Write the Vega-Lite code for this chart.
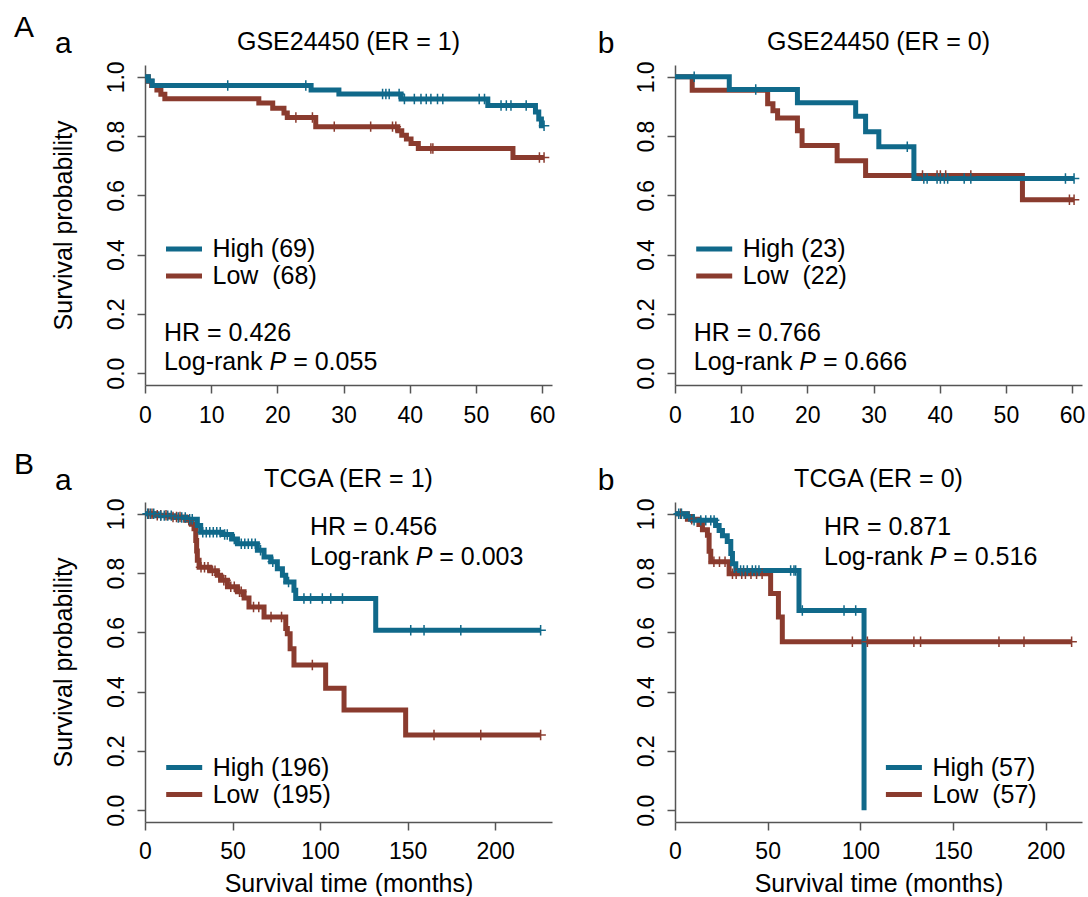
{
"$schema": "https://vega.github.io/schema/vega-lite/v6.json",
"padding": {"left": 13, "top": 12, "right": 5, "bottom": 0},
"background": "white",
"config": {
  "font": "Liberation Sans",
  "view": {"stroke": null},
  "axis": {"grid": false, "domainColor": "#555", "tickColor": "#555", "domainWidth": 1.5, "tickWidth": 1.5, "tickSize": 8,
           "labelFontSize": 23, "labelColor": "#000", "labelFont": "Liberation Sans", "labelFlush": false, "labelOverlap": false,
           "titleFontSize": 25, "titleFontWeight": "normal", "titleColor": "#000", "titleFont": "Liberation Sans"},
  "axisX": {"labelPadding": 11, "titlePadding": 8},
  "axisY": {"labelAngle": -90, "labelAlign": "center", "labelBaseline": "alphabetic", "labelPadding": 14, "titlePadding": 29},
  "legend": {"orient": "none", "title": null, "padding": 0, "symbolType": "M-2,0H2", "symbolSize": 324, "symbolStrokeWidth": 5, "symbolOpacity": 1,
             "labelFontSize": 25, "labelFont": "Liberation Sans", "labelColor": "#000", "labelOffset": 16, "rowPadding": 1, "labelLimit": 300},
  "text": {"font": "Liberation Sans", "color": "#000", "baseline": "alphabetic", "align": "left", "fontSize": 25}
},
"datasets": {
"aa": [
{"group":"Low","time":0,"surv":1,"cens":0},{"group":"Low","time":0.5,"surv":0.985,"cens":0},{"group":"Low","time":1.0,"surv":0.971,"cens":0},{"group":"Low","time":1.8,"surv":0.956,"cens":0},{"group":"Low","time":2.4,"surv":0.941,"cens":0},{"group":"Low","time":3.0,"surv":0.926,"cens":0},{"group":"Low","time":17.2,"surv":0.912,"cens":0},{"group":"Low","time":19.3,"surv":0.894,"cens":0},{"group":"Low","time":21.0,"surv":0.878,"cens":0},{"group":"Low","time":21.5,"surv":0.863,"cens":0},{"group":"Low","time":22.8,"surv":0.863,"cens":1},{"group":"Low","time":25.3,"surv":0.863,"cens":1},{"group":"Low","time":25.8,"surv":0.832,"cens":0},{"group":"Low","time":28.6,"surv":0.832,"cens":1},{"group":"Low","time":34.1,"surv":0.832,"cens":1},{"group":"Low","time":37.4,"surv":0.832,"cens":1},{"group":"Low","time":37.9,"surv":0.832,"cens":1},{"group":"Low","time":38.2,"surv":0.818,"cens":0},{"group":"Low","time":38.8,"surv":0.803,"cens":0},{"group":"Low","time":39.5,"surv":0.790,"cens":0},{"group":"Low","time":40.2,"surv":0.775,"cens":0},{"group":"Low","time":41.3,"surv":0.758,"cens":0},{"group":"Low","time":43.2,"surv":0.758,"cens":1},{"group":"Low","time":43.5,"surv":0.758,"cens":1},{"group":"Low","time":55.6,"surv":0.728,"cens":0},{"group":"Low","time":59.6,"surv":0.728,"cens":1},{"group":"Low","time":60.3,"surv":0.728,"cens":1},
{"group":"High","time":0,"surv":1,"cens":0},{"group":"High","time":0.5,"surv":0.986,"cens":0},{"group":"High","time":1.1,"surv":0.971,"cens":0},{"group":"High","time":12.5,"surv":0.971,"cens":1},{"group":"High","time":24.3,"surv":0.971,"cens":1},{"group":"High","time":25.1,"surv":0.956,"cens":0},{"group":"High","time":29.3,"surv":0.942,"cens":0},{"group":"High","time":35.9,"surv":0.942,"cens":1},{"group":"High","time":36.4,"surv":0.942,"cens":1},{"group":"High","time":36.9,"surv":0.942,"cens":1},{"group":"High","time":38.4,"surv":0.942,"cens":1},{"group":"High","time":38.7,"surv":0.925,"cens":0},{"group":"High","time":39.2,"surv":0.925,"cens":1},{"group":"High","time":40.7,"surv":0.925,"cens":1},{"group":"High","time":41.7,"surv":0.925,"cens":1},{"group":"High","time":42.5,"surv":0.925,"cens":1},{"group":"High","time":43.2,"surv":0.925,"cens":1},{"group":"High","time":44.2,"surv":0.925,"cens":1},{"group":"High","time":45.0,"surv":0.925,"cens":1},{"group":"High","time":50.5,"surv":0.925,"cens":1},{"group":"High","time":51.3,"surv":0.925,"cens":1},{"group":"High","time":51.8,"surv":0.903,"cens":0},{"group":"High","time":53.8,"surv":0.903,"cens":1},{"group":"High","time":54.6,"surv":0.903,"cens":1},{"group":"High","time":55.3,"surv":0.903,"cens":1},{"group":"High","time":57.6,"surv":0.903,"cens":1},{"group":"High","time":59.0,"surv":0.881,"cens":0},{"group":"High","time":59.5,"surv":0.858,"cens":0},{"group":"High","time":59.9,"surv":0.835,"cens":0},{"group":"High","time":60.3,"surv":0.835,"cens":1}
],
"ab": [
{"group":"Low","time":0,"surv":1,"cens":0},{"group":"Low","time":2.6,"surv":0.955,"cens":0},{"group":"Low","time":14.0,"surv":0.909,"cens":0},{"group":"Low","time":14.8,"surv":0.886,"cens":0},{"group":"Low","time":15.5,"surv":0.861,"cens":0},{"group":"Low","time":18.5,"surv":0.818,"cens":0},{"group":"Low","time":19.2,"surv":0.768,"cens":0},{"group":"Low","time":24.5,"surv":0.717,"cens":0},{"group":"Low","time":28.8,"surv":0.667,"cens":0},{"group":"Low","time":37.4,"surv":0.667,"cens":1},{"group":"Low","time":39.6,"surv":0.667,"cens":1},{"group":"Low","time":40.1,"surv":0.667,"cens":1},{"group":"Low","time":40.9,"surv":0.667,"cens":1},{"group":"Low","time":44.7,"surv":0.667,"cens":1},{"group":"Low","time":52.5,"surv":0.585,"cens":0},{"group":"Low","time":59.6,"surv":0.585,"cens":1},{"group":"Low","time":60.3,"surv":0.585,"cens":1},
{"group":"High","time":0,"surv":1,"cens":0},{"group":"High","time":2.9,"surv":1,"cens":1},{"group":"High","time":8.2,"surv":0.957,"cens":0},{"group":"High","time":12.2,"surv":0.957,"cens":1},{"group":"High","time":18.5,"surv":0.913,"cens":0},{"group":"High","time":27.3,"surv":0.867,"cens":0},{"group":"High","time":28.8,"surv":0.815,"cens":0},{"group":"High","time":30.8,"surv":0.764,"cens":0},{"group":"High","time":35.1,"surv":0.764,"cens":1},{"group":"High","time":36.1,"surv":0.657,"cens":0},{"group":"High","time":37.6,"surv":0.657,"cens":1},{"group":"High","time":38.1,"surv":0.657,"cens":1},{"group":"High","time":39.6,"surv":0.657,"cens":1},{"group":"High","time":40.1,"surv":0.657,"cens":1},{"group":"High","time":40.7,"surv":0.657,"cens":1},{"group":"High","time":41.2,"surv":0.657,"cens":1},{"group":"High","time":43.7,"surv":0.657,"cens":1},{"group":"High","time":44.7,"surv":0.657,"cens":1},{"group":"High","time":59.0,"surv":0.657,"cens":1},{"group":"High","time":60.3,"surv":0.657,"cens":1}
],
"ba": [
{"group":"Low","time":0,"surv":1,"cens":0},{"group":"Low","time":2,"surv":1,"cens":1},{"group":"Low","time":4,"surv":1,"cens":1},{"group":"Low","time":5,"surv":0.995,"cens":0},{"group":"Low","time":7,"surv":0.995,"cens":1},{"group":"Low","time":9,"surv":0.995,"cens":1},{"group":"Low","time":12,"surv":0.995,"cens":1},{"group":"Low","time":14,"surv":0.989,"cens":0},{"group":"Low","time":16,"surv":0.989,"cens":1},{"group":"Low","time":18,"surv":0.989,"cens":1},{"group":"Low","time":20,"surv":0.989,"cens":1},{"group":"Low","time":23.2,"surv":0.978,"cens":0},{"group":"Low","time":25,"surv":0.978,"cens":1},{"group":"Low","time":26.5,"surv":0.965,"cens":0},{"group":"Low","time":28.0,"surv":0.950,"cens":0},{"group":"Low","time":29.0,"surv":0.910,"cens":0},{"group":"Low","time":29.5,"surv":0.875,"cens":0},{"group":"Low","time":29.9,"surv":0.843,"cens":0},{"group":"Low","time":30.9,"surv":0.820,"cens":0},{"group":"Low","time":32,"surv":0.820,"cens":1},{"group":"Low","time":34,"surv":0.820,"cens":1},{"group":"Low","time":36,"surv":0.820,"cens":1},{"group":"Low","time":37,"surv":0.808,"cens":0},{"group":"Low","time":38.5,"surv":0.808,"cens":1},{"group":"Low","time":40,"surv":0.808,"cens":1},{"group":"Low","time":41.3,"surv":0.793,"cens":0},{"group":"Low","time":42.3,"surv":0.793,"cens":1},{"group":"Low","time":43.2,"surv":0.776,"cens":0},{"group":"Low","time":45,"surv":0.776,"cens":1},{"group":"Low","time":46,"surv":0.776,"cens":1},{"group":"Low","time":47.1,"surv":0.754,"cens":0},{"group":"Low","time":49,"surv":0.754,"cens":1},{"group":"Low","time":51,"surv":0.754,"cens":1},{"group":"Low","time":52.8,"surv":0.737,"cens":0},{"group":"Low","time":54,"surv":0.737,"cens":1},{"group":"Low","time":55,"surv":0.737,"cens":1},{"group":"Low","time":56.6,"surv":0.716,"cens":0},{"group":"Low","time":59.4,"surv":0.686,"cens":0},{"group":"Low","time":62,"surv":0.686,"cens":1},{"group":"Low","time":65,"surv":0.686,"cens":1},{"group":"Low","time":68.0,"surv":0.652,"cens":0},{"group":"Low","time":72,"surv":0.652,"cens":1},{"group":"Low","time":78,"surv":0.652,"cens":1},{"group":"Low","time":80.4,"surv":0.613,"cens":0},{"group":"Low","time":81.3,"surv":0.595,"cens":0},{"group":"Low","time":82.9,"surv":0.545,"cens":0},{"group":"Low","time":85.1,"surv":0.490,"cens":0},{"group":"Low","time":95.6,"surv":0.490,"cens":1},{"group":"Low","time":103.2,"surv":0.411,"cens":0},{"group":"Low","time":113.7,"surv":0.338,"cens":0},{"group":"Low","time":148.9,"surv":0.254,"cens":0},{"group":"Low","time":165.1,"surv":0.254,"cens":1},{"group":"Low","time":191.8,"surv":0.254,"cens":1},{"group":"Low","time":226,"surv":0.254,"cens":1},
{"group":"High","time":0,"surv":1,"cens":0},{"group":"High","time":1.5,"surv":1,"cens":1},{"group":"High","time":3,"surv":1,"cens":1},{"group":"High","time":5,"surv":1,"cens":1},{"group":"High","time":7,"surv":0.994,"cens":0},{"group":"High","time":9,"surv":0.994,"cens":1},{"group":"High","time":11,"surv":0.994,"cens":1},{"group":"High","time":13,"surv":0.994,"cens":1},{"group":"High","time":15,"surv":0.994,"cens":1},{"group":"High","time":17,"surv":0.988,"cens":0},{"group":"High","time":19,"surv":0.988,"cens":1},{"group":"High","time":21,"surv":0.988,"cens":1},{"group":"High","time":23,"surv":0.988,"cens":1},{"group":"High","time":24,"surv":0.982,"cens":0},{"group":"High","time":25.5,"surv":0.982,"cens":1},{"group":"High","time":27,"surv":0.982,"cens":1},{"group":"High","time":29.9,"surv":0.961,"cens":0},{"group":"High","time":31.8,"surv":0.938,"cens":0},{"group":"High","time":33,"surv":0.938,"cens":1},{"group":"High","time":35,"surv":0.938,"cens":1},{"group":"High","time":37,"surv":0.938,"cens":1},{"group":"High","time":39,"surv":0.938,"cens":1},{"group":"High","time":41,"surv":0.938,"cens":1},{"group":"High","time":43,"surv":0.938,"cens":1},{"group":"High","time":44,"surv":0.930,"cens":0},{"group":"High","time":45.5,"surv":0.930,"cens":1},{"group":"High","time":47,"surv":0.930,"cens":1},{"group":"High","time":49.5,"surv":0.915,"cens":0},{"group":"High","time":51,"surv":0.915,"cens":1},{"group":"High","time":52.8,"surv":0.899,"cens":0},{"group":"High","time":55,"surv":0.899,"cens":1},{"group":"High","time":57,"surv":0.899,"cens":1},{"group":"High","time":59,"surv":0.899,"cens":1},{"group":"High","time":61,"surv":0.899,"cens":1},{"group":"High","time":63,"surv":0.899,"cens":1},{"group":"High","time":64.2,"surv":0.877,"cens":0},{"group":"High","time":66,"surv":0.877,"cens":1},{"group":"High","time":68,"surv":0.854,"cens":0},{"group":"High","time":71.8,"surv":0.838,"cens":0},{"group":"High","time":73,"surv":0.838,"cens":1},{"group":"High","time":75.6,"surv":0.815,"cens":0},{"group":"High","time":78.5,"surv":0.793,"cens":0},{"group":"High","time":80.4,"surv":0.770,"cens":0},{"group":"High","time":82,"surv":0.770,"cens":1},{"group":"High","time":85.1,"surv":0.742,"cens":0},{"group":"High","time":86.1,"surv":0.714,"cens":0},{"group":"High","time":90.8,"surv":0.714,"cens":1},{"group":"High","time":94.6,"surv":0.714,"cens":1},{"group":"High","time":101.3,"surv":0.714,"cens":1},{"group":"High","time":106.1,"surv":0.714,"cens":1},{"group":"High","time":112.8,"surv":0.714,"cens":1},{"group":"High","time":131.8,"surv":0.607,"cens":0},{"group":"High","time":151.8,"surv":0.607,"cens":1},{"group":"High","time":159.4,"surv":0.607,"cens":1},{"group":"High","time":180.4,"surv":0.607,"cens":1},{"group":"High","time":226,"surv":0.607,"cens":1}
],
"bb": [
{"group":"Low","time":0,"surv":1,"cens":0},{"group":"Low","time":3,"surv":1,"cens":1},{"group":"Low","time":6.7,"surv":0.982,"cens":0},{"group":"Low","time":9,"surv":0.982,"cens":1},{"group":"Low","time":12.9,"surv":0.964,"cens":0},{"group":"Low","time":14.8,"surv":0.946,"cens":0},{"group":"Low","time":17.5,"surv":0.928,"cens":0},{"group":"Low","time":18.4,"surv":0.874,"cens":0},{"group":"Low","time":19.3,"surv":0.838,"cens":0},{"group":"Low","time":21,"surv":0.838,"cens":1},{"group":"Low","time":24,"surv":0.838,"cens":1},{"group":"Low","time":27,"surv":0.838,"cens":1},{"group":"Low","time":29.2,"surv":0.798,"cens":0},{"group":"Low","time":31,"surv":0.798,"cens":1},{"group":"Low","time":33,"surv":0.798,"cens":1},{"group":"Low","time":36,"surv":0.798,"cens":1},{"group":"Low","time":38,"surv":0.798,"cens":1},{"group":"Low","time":41,"surv":0.798,"cens":1},{"group":"Low","time":44,"surv":0.798,"cens":1},{"group":"Low","time":47,"surv":0.798,"cens":1},{"group":"Low","time":51.6,"surv":0.731,"cens":0},{"group":"Low","time":55.8,"surv":0.652,"cens":0},{"group":"Low","time":57.9,"surv":0.568,"cens":0},{"group":"Low","time":95.7,"surv":0.568,"cens":1},{"group":"Low","time":103.8,"surv":0.568,"cens":1},{"group":"Low","time":128.9,"surv":0.568,"cens":1},{"group":"Low","time":132.5,"surv":0.568,"cens":1},{"group":"Low","time":174.8,"surv":0.568,"cens":1},{"group":"Low","time":188.3,"surv":0.568,"cens":1},{"group":"Low","time":214,"surv":0.568,"cens":1},
{"group":"High","time":0,"surv":1,"cens":0},{"group":"High","time":2,"surv":1,"cens":1},{"group":"High","time":3.5,"surv":1,"cens":1},{"group":"High","time":5.8,"surv":0.991,"cens":0},{"group":"High","time":7.5,"surv":0.991,"cens":1},{"group":"High","time":9.4,"surv":0.978,"cens":0},{"group":"High","time":10.3,"surv":0.978,"cens":1},{"group":"High","time":13.9,"surv":0.978,"cens":1},{"group":"High","time":16.6,"surv":0.978,"cens":1},{"group":"High","time":19.3,"surv":0.978,"cens":1},{"group":"High","time":21.1,"surv":0.978,"cens":1},{"group":"High","time":21.9,"surv":0.961,"cens":0},{"group":"High","time":23.8,"surv":0.944,"cens":0},{"group":"High","time":25.6,"surv":0.926,"cens":0},{"group":"High","time":28.2,"surv":0.907,"cens":0},{"group":"High","time":30.1,"surv":0.866,"cens":0},{"group":"High","time":31.0,"surv":0.832,"cens":0},{"group":"High","time":32.8,"surv":0.809,"cens":0},{"group":"High","time":35.4,"surv":0.809,"cens":1},{"group":"High","time":37,"surv":0.809,"cens":1},{"group":"High","time":39,"surv":0.809,"cens":1},{"group":"High","time":41.7,"surv":0.809,"cens":1},{"group":"High","time":43.5,"surv":0.809,"cens":1},{"group":"High","time":45.3,"surv":0.809,"cens":1},{"group":"High","time":62.4,"surv":0.809,"cens":1},{"group":"High","time":64.2,"surv":0.809,"cens":1},{"group":"High","time":65.1,"surv":0.809,"cens":1},{"group":"High","time":66.9,"surv":0.674,"cens":0},{"group":"High","time":68.7,"surv":0.674,"cens":1},{"group":"High","time":91.2,"surv":0.674,"cens":1},{"group":"High","time":97.5,"surv":0.674,"cens":1},{"group":"High","time":102,"surv":0,"cens":0}
]
},
"columns": 2,
"spacing": {"row": 117, "column": 123},
"bounds": "flush",
"resolve": {"scale": {"x": "independent", "y": "independent", "color": "independent"}, "legend": {"color": "independent"}},
"concat": [
{
 "width": 407, "height": 320, "data": {"name": "aa"},
 "layer": [
  {"mark": {"type": "line", "interpolate": "step-after", "strokeWidth": 5},
   "encoding": {
    "x": {"field": "time", "type": "quantitative", "scale": {"domain": [0, 61.5], "nice": false, "zero": false}, "axis": {"values": [0,10,20,30,40,50,60], "format": "d", "title": null}},
    "y": {"field": "surv", "type": "quantitative", "scale": {"domain": [-0.04, 1.04], "nice": false, "zero": false}, "axis": {"values": [0,0.2,0.4,0.6,0.8,1], "format": ".1f", "title": "Survival probability"}},
    "color": {"field": "group", "type": "nominal", "scale": {"domain": ["High","Low"], "range": ["#10698a","#8a3b2e"]}, "legend": {"legendX": 26.5, "legendY": 171.4, "labelExpr": "datum.label == 'High' ? 'High (69)' : 'Low\u00a0 (68)'"}}
   }},
  {"transform": [{"filter": "datum.cens == 1"}], "mark": {"type": "point", "shape": "M-1,0H1M0,-1V1", "filled": false, "strokeWidth": 1.5, "size": 110, "opacity": 1},
   "encoding": {"x": {"field": "time", "type": "quantitative"}, "y": {"field": "surv", "type": "quantitative"}, "color": {"field": "group", "type": "nominal"}}},
  {"data": {"values": [{}]}, "mark": {"type": "text", "text": "GSE24450 (ER = 1)", "align": "center"}, "encoding": {"x": {"datum": 30.75}, "y": {"datum": 1.089}}},
  {"data": {"values": [{}]}, "mark": {"type": "text", "text": "HR = 0.426"}, "encoding": {"x": {"datum": 2.86}, "y": {"datum": 0.11}}},
  {"data": {"values": [{}]}, "mark": {"type": "text", "text": "Log-rank"}, "encoding": {"x": {"datum": 2.86}, "y": {"datum": 0.009}}},
  {"data": {"values": [{}]}, "mark": {"type": "text", "text": "P", "fontStyle": "italic"}, "encoding": {"x": {"datum": 18.81}, "y": {"datum": 0.009}}},
  {"data": {"values": [{}]}, "mark": {"type": "text", "text": "= 0.055"}, "encoding": {"x": {"datum": 22.39}, "y": {"datum": 0.009}}},
  {"data": {"values": [{}]}, "mark": {"type": "text", "text": "A", "fontSize": 30}, "encoding": {"x": {"datum": -19.8}, "y": {"datum": 1.1355}}},
  {"data": {"values": [{}]}, "mark": {"type": "text", "text": "a", "fontSize": 30}, "encoding": {"x": {"datum": -13.6}, "y": {"datum": 1.0815}}}
 ]
},
{
 "width": 407, "height": 320, "data": {"name": "ab"},
 "layer": [
  {"mark": {"type": "line", "interpolate": "step-after", "strokeWidth": 5},
   "encoding": {
    "x": {"field": "time", "type": "quantitative", "scale": {"domain": [0, 61.5], "nice": false, "zero": false}, "axis": {"values": [0,10,20,30,40,50,60], "format": "d", "title": null}},
    "y": {"field": "surv", "type": "quantitative", "scale": {"domain": [-0.04, 1.04], "nice": false, "zero": false}, "axis": {"values": [0,0.2,0.4,0.6,0.8,1], "format": ".1f", "title": null}},
    "color": {"field": "group", "type": "nominal", "scale": {"domain": ["High","Low"], "range": ["#10698a","#8a3b2e"]}, "legend": {"legendX": 26.7, "legendY": 171.4, "labelExpr": "datum.label == 'High' ? 'High (23)' : 'Low\u00a0 (22)'"}}
   }},
  {"transform": [{"filter": "datum.cens == 1"}], "mark": {"type": "point", "shape": "M-1,0H1M0,-1V1", "filled": false, "strokeWidth": 1.5, "size": 110, "opacity": 1},
   "encoding": {"x": {"field": "time", "type": "quantitative"}, "y": {"field": "surv", "type": "quantitative"}, "color": {"field": "group", "type": "nominal"}}},
  {"data": {"values": [{}]}, "mark": {"type": "text", "text": "GSE24450 (ER = 0)", "align": "center"}, "encoding": {"x": {"datum": 30.75}, "y": {"datum": 1.089}}},
  {"data": {"values": [{}]}, "mark": {"type": "text", "text": "HR = 0.766"}, "encoding": {"x": {"datum": 2.83}, "y": {"datum": 0.11}}},
  {"data": {"values": [{}]}, "mark": {"type": "text", "text": "Log-rank"}, "encoding": {"x": {"datum": 2.83}, "y": {"datum": 0.009}}},
  {"data": {"values": [{}]}, "mark": {"type": "text", "text": "P", "fontStyle": "italic"}, "encoding": {"x": {"datum": 18.78}, "y": {"datum": 0.009}}},
  {"data": {"values": [{}]}, "mark": {"type": "text", "text": "= 0.666"}, "encoding": {"x": {"datum": 22.36}, "y": {"datum": 0.009}}},
  {"data": {"values": [{}]}, "mark": {"type": "text", "text": "b", "fontSize": 30}, "encoding": {"x": {"datum": -11.68}, "y": {"datum": 1.0815}}}
 ]
},
{
 "width": 407, "height": 320, "data": {"name": "ba"},
 "layer": [
  {"mark": {"type": "line", "interpolate": "step-after", "strokeWidth": 5},
   "encoding": {
    "x": {"field": "time", "type": "quantitative", "scale": {"domain": [0, 232.5], "nice": false, "zero": false}, "axis": {"values": [0,50,100,150,200], "format": "d", "title": "Survival time (months)", "labelPadding": 10}},
    "y": {"field": "surv", "type": "quantitative", "scale": {"domain": [-0.04, 1.04], "nice": false, "zero": false}, "axis": {"values": [0,0.2,0.4,0.6,0.8,1], "format": ".1f", "title": "Survival probability"}},
    "color": {"field": "group", "type": "nominal", "scale": {"domain": ["High","Low"], "range": ["#10698a","#8a3b2e"]}, "legend": {"legendX": 26.7, "legendY": 253, "labelExpr": "datum.label == 'High' ? 'High (196)' : 'Low\u00a0 (195)'"}}
   }},
  {"transform": [{"filter": "datum.cens == 1"}], "mark": {"type": "point", "shape": "M-1,0H1M0,-1V1", "filled": false, "strokeWidth": 1.5, "size": 110, "opacity": 1},
   "encoding": {"x": {"field": "time", "type": "quantitative"}, "y": {"field": "surv", "type": "quantitative"}, "color": {"field": "group", "type": "nominal"}}},
  {"data": {"values": [{}]}, "mark": {"type": "text", "text": "TCGA (ER = 1)", "align": "center"}, "encoding": {"x": {"datum": 116.25}, "y": {"datum": 1.089}}},
  {"data": {"values": [{}]}, "mark": {"type": "text", "text": "HR = 0.456"}, "encoding": {"x": {"datum": 94.26}, "y": {"datum": 0.927}}},
  {"data": {"values": [{}]}, "mark": {"type": "text", "text": "Log-rank"}, "encoding": {"x": {"datum": 94.26}, "y": {"datum": 0.826}}},
  {"data": {"values": [{}]}, "mark": {"type": "text", "text": "P", "fontStyle": "italic"}, "encoding": {"x": {"datum": 154.6}, "y": {"datum": 0.826}}},
  {"data": {"values": [{}]}, "mark": {"type": "text", "text": "= 0.003"}, "encoding": {"x": {"datum": 168.1}, "y": {"datum": 0.826}}},
  {"data": {"values": [{}]}, "mark": {"type": "text", "text": "B", "fontSize": 30}, "encoding": {"x": {"datum": -74.84}, "y": {"datum": 1.1355}}},
  {"data": {"values": [{}]}, "mark": {"type": "text", "text": "a", "fontSize": 30}, "encoding": {"x": {"datum": -51.41}, "y": {"datum": 1.0815}}}
 ]
},
{
 "width": 407, "height": 320, "data": {"name": "bb"},
 "layer": [
  {"mark": {"type": "line", "interpolate": "step-after", "strokeWidth": 5},
   "encoding": {
    "x": {"field": "time", "type": "quantitative", "scale": {"domain": [0, 219.6], "nice": false, "zero": false}, "axis": {"values": [0,50,100,150,200], "format": "d", "title": "Survival time (months)", "labelPadding": 10}},
    "y": {"field": "surv", "type": "quantitative", "scale": {"domain": [-0.04, 1.04], "nice": false, "zero": false}, "axis": {"values": [0,0.2,0.4,0.6,0.8,1], "format": ".1f", "title": null}},
    "color": {"field": "group", "type": "nominal", "scale": {"domain": ["High","Low"], "range": ["#10698a","#8a3b2e"]}, "legend": {"legendX": 216.4, "legendY": 253, "labelExpr": "datum.label == 'High' ? 'High (57)' : 'Low\u00a0 (57)'"}}
   }},
  {"transform": [{"filter": "datum.cens == 1"}], "mark": {"type": "point", "shape": "M-1,0H1M0,-1V1", "filled": false, "strokeWidth": 1.5, "size": 110, "opacity": 1},
   "encoding": {"x": {"field": "time", "type": "quantitative"}, "y": {"field": "surv", "type": "quantitative"}, "color": {"field": "group", "type": "nominal"}}},
  {"data": {"values": [{}]}, "mark": {"type": "text", "text": "TCGA (ER = 0)", "align": "center"}, "encoding": {"x": {"datum": 109.8}, "y": {"datum": 1.089}}},
  {"data": {"values": [{}]}, "mark": {"type": "text", "text": "HR = 0.871"}, "encoding": {"x": {"datum": 80.39}, "y": {"datum": 0.927}}},
  {"data": {"values": [{}]}, "mark": {"type": "text", "text": "Log-rank"}, "encoding": {"x": {"datum": 80.39}, "y": {"datum": 0.828}}},
  {"data": {"values": [{}]}, "mark": {"type": "text", "text": "P", "fontStyle": "italic"}, "encoding": {"x": {"datum": 137.4}, "y": {"datum": 0.828}}},
  {"data": {"values": [{}]}, "mark": {"type": "text", "text": "= 0.516"}, "encoding": {"x": {"datum": 150.1}, "y": {"datum": 0.828}}},
  {"data": {"values": [{}]}, "mark": {"type": "text", "text": "b", "fontSize": 30}, "encoding": {"x": {"datum": -41.7}, "y": {"datum": 1.0815}}}
 ]
}
]
}
